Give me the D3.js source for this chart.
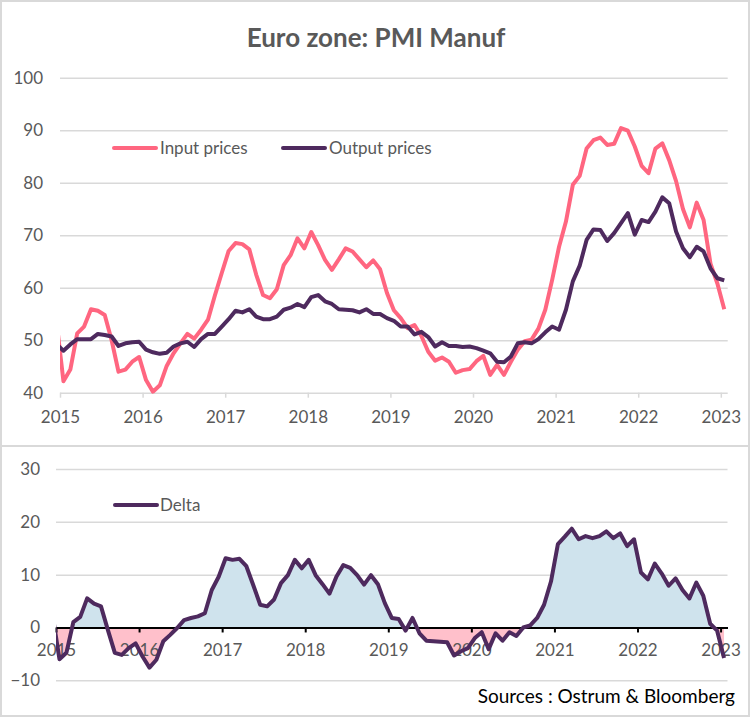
<!DOCTYPE html>
<html>
<head>
<meta charset="utf-8">
<script src="https://cdn.jsdelivr.net/npm/d3@7"></script>
<style>
body { margin: 0; background: #fff; }
svg text { font-family: Lato, "Open Sans", sans-serif; }
</style>
</head>
<body>
<svg id="chart" width="751" height="718"></svg>
<script>
// monthly PMI readings, Dec 2014 .. Jan 2023 (first one sits behind the left edge)
const years = ['2015', '2016', '2017', '2018', '2019', '2020', '2021', '2022', '2023'];
const firstMonth = -1;

const inputPrices = [
    53.5,
    42.2, 44.4, 51.3, 52.6, 55.9, 55.6, 54.8, 50.0, 44.0, 44.4, 45.9, 46.8,
    42.4, 40.2, 41.4, 45.1, 47.5, 49.4, 51.2, 50.3, 52.0, 53.9, 58.5, 62.8,
    67.0, 68.5, 68.3, 67.3, 62.5, 58.6, 58.0, 59.7, 64.3, 66.2, 69.4, 67.5,
    70.6, 68.1, 65.3, 63.4, 65.4, 67.5, 66.9, 65.4, 63.9, 65.2, 63.5, 59.0,
    55.7, 54.2, 52.3, 52.9, 50.8, 47.8, 46.1, 46.7, 45.9, 43.8, 44.3, 44.5,
    46.0, 47.0, 43.4, 45.3, 43.4, 45.9, 48.2, 49.8, 50.1, 52.2, 55.8, 61.5,
    67.8, 72.6, 79.6, 81.3, 86.5, 88.1, 88.6, 87.2, 87.4, 90.4, 89.9, 86.9,
    83.2, 81.8, 86.5, 87.5, 84.3, 80.3, 75.0, 71.5, 76.2, 72.9, 64.6, 60.8,
    55.9
];

const outputPrices = [
    49.2,
    48.0, 49.2, 50.2, 50.2, 50.2, 51.2, 51.0, 50.7, 48.9, 49.4, 49.6, 49.7,
    48.2, 47.7, 47.4, 47.6, 48.8, 49.4, 49.7, 48.7, 50.2, 51.2, 51.2, 52.6,
    54.0, 55.6, 55.3, 55.9, 54.5, 54.0, 54.0, 54.5, 55.8, 56.2, 56.9, 56.3,
    58.2, 58.6, 57.4, 56.9, 55.9, 55.8, 55.7, 55.3, 55.9, 55.0, 55.0, 54.2,
    53.7, 52.6, 52.6, 51.1, 51.6, 50.6, 48.8, 49.6, 48.9, 48.9, 48.7, 48.8,
    48.5, 48.0, 47.5, 45.9, 45.8, 46.9, 49.4, 49.6, 49.4, 50.2, 51.5, 52.6,
    52.0, 55.8, 61.2, 64.2, 69.1, 71.1, 71.0, 68.9, 70.4, 72.3, 74.2, 70.1,
    72.9, 72.5, 74.5, 77.2, 76.1, 70.7, 67.5, 65.8, 67.8, 66.9, 63.7, 61.8,
    61.4
];

const delta = [
    2.4,
    -6.0, -4.8, 1.0, 2.0, 5.5, 4.5, 4.0, -0.5, -4.8, -5.2, -3.9, -3.0,
    -5.5, -7.6, -6.1, -2.6, -1.4, -0.1, 1.4, 1.8, 2.1, 2.7, 7.1, 9.6,
    13.1, 12.8, 13.0, 11.6, 8.0, 4.3, 4.0, 5.3, 8.4, 9.9, 12.8, 11.2,
    12.8, 9.9, 8.2, 6.4, 9.6, 11.8, 11.3, 9.9, 8.1, 9.9, 8.2, 4.6,
    1.8, 1.6, -0.6, 1.8, -1.1, -2.5, -2.6, -2.7, -2.8, -5.3, -4.5, -3.9,
    -2.0, -0.9, -4.1, -1.1, -2.5, -0.9, -1.6, 0.0, 0.4, 1.8, 4.3, 8.7,
    15.8, 17.2, 18.7, 16.7, 17.3, 16.9, 17.3, 18.2, 16.9, 17.8, 15.4, 16.7,
    10.4, 9.1, 12.1, 10.2, 7.9, 9.3, 7.1, 5.5, 8.5, 6.0, 0.7, -0.6,
    -5.8
];

const topTicks = [40, 50, 60, 70, 80, 90, 100];
const bottomTicks = [-10, 0, 10, 20, 30];

const grey = '#d9d9d9';
const labelGrey = '#595959';
const pink = '#ff6680';
const purple = '#4e2a5e';

const svg = d3.select('#chart');

// panel frames
svg.append('rect').attr('x', 1).attr('y', 1).attr('width', 748).attr('height', 445)
    .attr('fill', 'none').attr('stroke', grey).attr('stroke-width', 2);
svg.append('rect').attr('x', 1).attr('y', 446).attr('width', 748).attr('height', 270)
    .attr('fill', 'none').attr('stroke', grey).attr('stroke-width', 2);

svg.append('text')
    .attr('x', 376).attr('y', 47)
    .attr('text-anchor', 'middle')
    .style('font-size', '26px').style('font-weight', 'bold')
    .style('fill', labelGrey)
    .text('Euro zone: PMI Manuf');

const monthIdx = (i) => i + firstMonth;
const tickPos = years.map((y, i) => i * 12 - 0.5);

// ---------- top panel ----------
const xTop = d3.scaleLinear().domain([-0.5, 96.5]).range([60, 727.7]);
const yTop = d3.scaleLinear().domain([40, 100]).range([392.7, 77.7]);

svg.append('clipPath').attr('id', 'clipTop')
    .append('rect').attr('x', 60).attr('y', 60).attr('width', 667.7).attr('height', 360);

const gy = svg.append('g').attr('transform', 'translate(60,0)')
    .call(d3.axisLeft(yTop).tickValues(topTicks).tickSize(-667.7).tickPadding(17));
gy.select('.domain').remove();
gy.selectAll('line').attr('stroke', grey).attr('stroke-width', 1.5);
gy.selectAll('text').style('font-size', '17px').style('fill', labelGrey);

const gx = svg.append('g').attr('transform', 'translate(0,392.7)')
    .call(d3.axisBottom(xTop).tickValues(tickPos).tickFormat((d, i) => years[i]).tickSize(5));
gx.select('.domain').remove();
gx.selectAll('line').attr('stroke', grey).attr('stroke-width', 1.5);
gx.selectAll('text').attr('y', 30).attr('dy', 0)
    .style('font-size', '17px').style('fill', labelGrey);

const lineTop = (arr) => d3.line()
    .x((d, i) => xTop(monthIdx(i)))
    .y(d => yTop(d))(arr);

svg.append('path')
    .attr('d', lineTop(inputPrices))
    .attr('clip-path', 'url(#clipTop)')
    .attr('fill', 'none').attr('stroke', pink).attr('stroke-width', 4)
    .attr('stroke-linejoin', 'round');

svg.append('path')
    .attr('d', lineTop(outputPrices))
    .attr('clip-path', 'url(#clipTop)')
    .attr('fill', 'none').attr('stroke', purple).attr('stroke-width', 4)
    .attr('stroke-linejoin', 'round');

// legend top
const legendTop = [
    { name: 'Input prices', color: pink, x: 114 },
    { name: 'Output prices', color: purple, x: 283 }
];
legendTop.forEach(l => {
    svg.append('line')
        .attr('x1', l.x).attr('x2', l.x + 42).attr('y1', 148).attr('y2', 148)
        .attr('stroke', l.color).attr('stroke-width', 4).attr('stroke-linecap', 'round');
    svg.append('text')
        .attr('x', l.x + 46).attr('y', 154)
        .style('font-size', '17px').style('fill', labelGrey)
        .text(l.name);
});

// ---------- bottom panel ----------
const xBot = d3.scaleLinear().domain([-0.5, 96.5]).range([56, 727.5]);
const yBot = d3.scaleLinear().domain([-10, 30]).range([680.3, 469]);

svg.append('clipPath').attr('id', 'clipPos')
    .append('rect').attr('x', 56).attr('y', 450).attr('width', 671.5).attr('height', yBot(0) - 450);
svg.append('clipPath').attr('id', 'clipNeg')
    .append('rect').attr('x', 56).attr('y', yBot(0)).attr('width', 671.5).attr('height', 80);
svg.append('clipPath').attr('id', 'clipBot')
    .append('rect').attr('x', 56).attr('y', 450).attr('width', 671.5).attr('height', 260);

const gy2 = svg.append('g').attr('transform', 'translate(56,0)')
    .call(d3.axisLeft(yBot).tickValues(bottomTicks).tickSize(-671.5).tickPadding(16));
gy2.select('.domain').remove();
gy2.selectAll('line').attr('stroke', grey).attr('stroke-width', 1.5);
gy2.selectAll('text').style('font-size', '17px').style('fill', labelGrey);

const area = d3.area()
    .x((d, i) => xBot(monthIdx(i)))
    .y0(yBot(0))
    .y1(d => yBot(d));

svg.append('path').attr('d', area(delta))
    .attr('clip-path', 'url(#clipPos)').attr('fill', '#cfe3ed');
svg.append('path').attr('d', area(delta))
    .attr('clip-path', 'url(#clipNeg)').attr('fill', '#ffc0cb');

const gx2 = svg.append('g').attr('transform', `translate(0,${yBot(0)})`)
    .call(d3.axisBottom(xBot).tickValues(tickPos).tickFormat((d, i) => years[i]).tickSize(5).tickSizeOuter(0));
gx2.select('.domain').attr('stroke', '#000').attr('stroke-width', 2);
gx2.selectAll('line').attr('stroke', '#000').attr('stroke-width', 2);
gx2.selectAll('text').attr('y', 29).attr('dy', 0)
    .style('font-size', '17px').style('fill', labelGrey);

svg.append('path')
    .attr('d', d3.line().x((d, i) => xBot(monthIdx(i))).y(d => yBot(d))(delta))
    .attr('clip-path', 'url(#clipBot)')
    .attr('fill', 'none').attr('stroke', purple).attr('stroke-width', 4)
    .attr('stroke-linejoin', 'round');

svg.append('line')
    .attr('x1', 115).attr('x2', 157).attr('y1', 505).attr('y2', 505)
    .attr('stroke', purple).attr('stroke-width', 4).attr('stroke-linecap', 'round');
svg.append('text')
    .attr('x', 160).attr('y', 511)
    .style('font-size', '17px').style('fill', labelGrey)
    .text('Delta');

svg.append('text')
    .attr('x', 735).attr('y', 703)
    .attr('text-anchor', 'end')
    .style('font-size', '19px').style('fill', '#000')
    .text('Sources : Ostrum & Bloomberg');
</script>
</body>
</html>
